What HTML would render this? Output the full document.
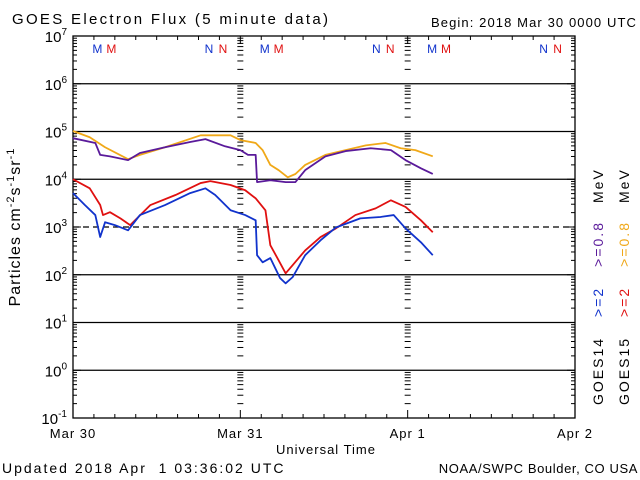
<!DOCTYPE html>
<html><head><meta charset="utf-8"><style>
body{margin:0;background:#fff;}
svg{display:block;font-family:"Liberation Sans",sans-serif;}
</style></head><body>
<svg id="c" width="640" height="480" viewBox="0 0 640 480">
<text x="12" y="24" font-size="15" letter-spacing="2.3">GOES Electron Flux (5 minute data)</text>
<text x="637" y="27" font-size="13" letter-spacing="1.1" text-anchor="end">Begin: 2018 Mar 30 0000 UTC</text>
<text x="326" y="454" font-size="13" letter-spacing="1" text-anchor="middle">Universal Time</text>
<text x="2" y="473" font-size="14" letter-spacing="2" xml:space="preserve">Updated 2018 Apr  1 03:36:02 UTC</text>
<text x="638" y="473" font-size="13" letter-spacing="0.6" text-anchor="end">NOAA/SWPC Boulder, CO USA</text>
<text transform="translate(20,227) rotate(-90)" font-size="16" letter-spacing="1" text-anchor="middle">Particles cm<tspan dy="-6" font-size="11">-2</tspan><tspan dy="6">s</tspan><tspan dy="-6" font-size="11">-1</tspan><tspan dy="6">sr</tspan><tspan dy="-6" font-size="11">-1</tspan></text>
<g font-size="14" letter-spacing="2">
<text transform="translate(603,405) rotate(-90)"><tspan fill="#000">GOES14</tspan><tspan dx="20" fill="#1133cc">&gt;=2</tspan><tspan dx="20" fill="#5a1a9a">&gt;=0.8</tspan><tspan dx="18" fill="#000">MeV</tspan></text>
</g>
<g font-size="14" letter-spacing="2">
<text transform="translate(629,405) rotate(-90)"><tspan fill="#000">GOES15</tspan><tspan dx="20" fill="#e01010">&gt;=2</tspan><tspan dx="20" fill="#f0a818">&gt;=0.8</tspan><tspan dx="18" fill="#000">MeV</tspan></text>
</g>
</svg>
<script>
const orangeT=[0,2.4,4.6,7.9,9.6,13.2,18.3,22.6,24.0,26.2,27.2,28.3,29.5,30.8,31.9,33.3,36.2,39.1,42.0,44.8,47.0,49.1,51.6];
const orangeV=[5.01,4.88,4.67,4.42,4.51,4.67,4.92,4.92,4.82,4.76,4.61,4.30,4.19,4.04,4.11,4.30,4.51,4.61,4.71,4.76,4.65,4.61,4.48];
const purpleT=[0,3.2,3.9,5.3,7.9,9.6,13.2,16.8,19.0,21.8,24.0,25.1,26.2,26.4,28.3,30.5,31.9,33.3,36.2,39.1,42.7,45.6,47.7,49.9,51.6];
const purpleV=[4.86,4.76,4.51,4.48,4.40,4.55,4.67,4.78,4.84,4.69,4.61,4.51,4.51,3.94,3.98,3.94,3.94,4.19,4.48,4.59,4.65,4.61,4.40,4.23,4.11];
const redT=[0,2.4,3.9,4.3,5.3,6.8,8.2,11.1,14.7,18.3,19.7,22.6,24.7,26.2,27.6,28.3,29.5,30.5,31.5,33.3,35.5,37.7,40.5,43.4,45.6,47.7,49.9,51.6];
const redV=[4.00,3.81,3.46,3.25,3.31,3.18,3.04,3.46,3.67,3.92,3.96,3.88,3.77,3.60,3.35,2.62,2.30,2.03,2.20,2.51,2.79,2.97,3.25,3.39,3.56,3.42,3.14,2.89];
const blueT=[0,1.7,3.2,3.9,4.6,6.0,7.9,9.6,13.2,16.8,19.0,20.4,22.6,24.7,26.2,26.4,27.2,28.3,29.0,29.7,30.5,31.5,33.3,35.5,37.7,41.2,44.1,46.0,47.7,49.9,51.6];
const blueV=[3.71,3.46,3.25,2.79,3.10,3.04,2.93,3.25,3.46,3.71,3.81,3.67,3.35,3.25,3.14,2.41,2.26,2.35,2.14,1.93,1.82,1.95,2.41,2.72,2.99,3.18,3.21,3.25,2.97,2.68,2.41];
const yTicks=[-1,0,1,2,3,4,5,6,7];
const dayLabels=["Mar 30","Mar 31","Apr 1","Apr 2"];
const markerHours=[3.5,5.5,19.5,21.5];
const markerText=["M","M","N","N"];

const NS="http://www.w3.org/2000/svg";
const svg=document.getElementById('c');
const X0=73,X1=575,Y0=36,Y1=418;
const xs=h=>X0+(X1-X0)*h/72;
const ys=v=>Y1-(Y1-Y0)*(v+1)/8;
function el(t,a,p){const e=document.createElementNS(NS,t);for(const k in a)e.setAttribute(k,a[k]);(p||svg).appendChild(e);return e;}

yTicks.forEach((v,i)=>{
  if(v>-1&&v<7){
    const g=el('line',{x1:X0,x2:X1,y1:ys(v),y2:ys(v),stroke:'#000','stroke-width':1.3,'stroke-dasharray':v===3?'6,4':''});
    
    
  }
  const t=el('text',{x:X0-6,y:ys(v)+6,'font-size':15,'text-anchor':'end'});
  
  
  t.textContent='10';
  const s=el('tspan',{dy:-7,'font-size':10},t);s.textContent=String(v);
});
for(let d=-1;d<7;d++){for(let m=1;m<10;m++){
  const y=ys(d+Math.log10(m));
  const len=m===1?8:4;
  el('line',{x1:X0,x2:X0+len,y1:y,y2:y,stroke:'#000'});
  el('line',{x1:X1,x2:X1-len,y1:y,y2:y,stroke:'#000'});
  if(m>1){[24,48].forEach(h=>{el('line',{x1:xs(h)-3,x2:xs(h)+3,y1:y,y2:y,stroke:'#000'});});}
}}
for(let h=0;h<=72;h+=3){
  const len=h%24===0?8:4;
  el('line',{x1:xs(h),x2:xs(h),y1:Y0,y2:Y0+len,stroke:'#000'});
  el('line',{x1:xs(h),x2:xs(h),y1:Y1,y2:Y1-len,stroke:'#000'});
}
dayLabels.forEach((d,i)=>{
  const t=el('text',{x:xs(i*24),y:438,'font-size':13,'letter-spacing':1,'text-anchor':'middle'});
  
  
  t.textContent=d;
});
const fr=el('rect',{x:X0,y:Y0,width:X1-X0,height:Y1-Y0,fill:'none',stroke:'#000','stroke-width':1.3});


for(let day=0;day<3;day++){markerHours.forEach((h,i)=>{
  const t=el('text',{x:xs(day*24+h),y:53,'font-size':12,'text-anchor':'middle',fill:i%2===0?'#1133cc':'#e01010'});
  
  
  t.textContent=markerText[i];
});}
function series(T,V,color,name){
  const p=el('polyline',{points:T.map((h,i)=>xs(h)+','+ys(V[i])).join(' '),fill:'none',stroke:color,'stroke-width':1.8,'stroke-linejoin':'round'});
  
  
}
series(orangeT,orangeV,'#f0a818','goes15-0.8mev-line');
series(purpleT,purpleV,'#5a1a9a','goes14-0.8mev-line');
series(redT,redV,'#e01010','goes15-2mev-line');
series(blueT,blueV,'#1133cc','goes14-2mev-line');
</script>
</body></html>
